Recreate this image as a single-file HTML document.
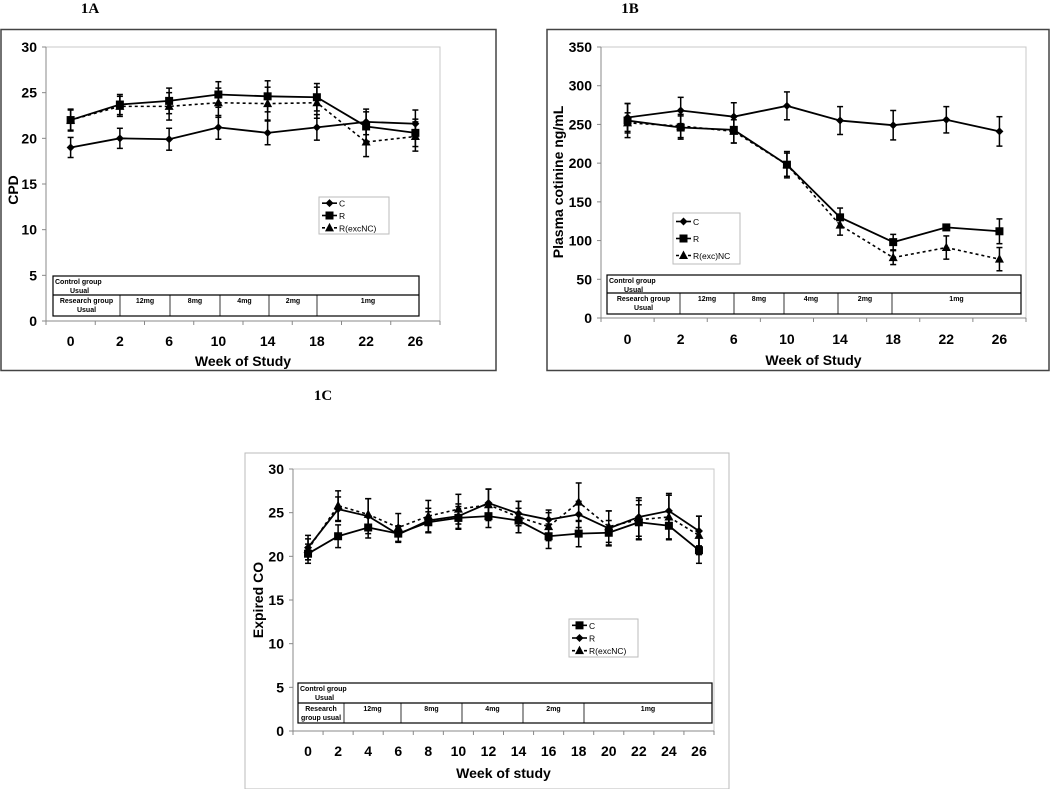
<!DOCTYPE html>
<html><head><meta charset="utf-8"><style>
html,body{margin:0;padding:0;background:#fff;width:1050px;height:789px;overflow:hidden}
svg{display:block;font-family:"Liberation Sans",Arial,sans-serif}
</style></head><body>
<svg id="fig" width="1050" height="789" viewBox="0 0 1050 789" xmlns="http://www.w3.org/2000/svg">
<text x="90" y="13" font-family="Liberation Serif" font-weight="bold" font-size="15" text-anchor="middle">1A</text>
<text x="630" y="13" font-family="Liberation Serif" font-weight="bold" font-size="15" text-anchor="middle">1B</text>
<text x="323" y="400" font-family="Liberation Serif" font-weight="bold" font-size="15" text-anchor="middle">1C</text>
</svg>
<script>
// ---- Chart 1A data ----
const catsA = ["0","2","6","10","14","18","22","26"];
const aC = [19,20,19.9,21.2,20.6,21.2,21.8,21.6];
const aCe = [1.1,1.1,1.2,1.3,1.3,1.4,1.4,1.5];
const aR = [22,23.7,24.1,24.8,24.6,24.5,21.3,20.6];
const aRe = [1.2,1.1,1.4,1.4,1.7,1.5,1.6,1.5];
const aX = [22,23.5,23.5,23.9,23.8,23.9,19.6,20.2];
const aXe = [1.1,1.1,1.5,1.6,1.8,1.7,1.6,1.6];
const ticksA = [0,5,10,15,20,25,30];
// ---- Chart 1B data ----
const catsB = ["0","2","6","10","14","18","22","26"];
const bC = [259,268,260,274,255,249,256,241];
const bCe = [18,17,18,18,18,19,17,19];
const bR = [255,246,243,198,130,98,117,112];
const bRe = [22,15,17,17,12,10,0,16];
const bX = [252,248,241,198,120,78,91,76];
const bXe = [13,15,15,15,13,9,15,15];
const ticksB = [0,50,100,150,200,250,300,350];
// ---- Chart 1C data ----
const catsC = ["0","2","4","6","8","10","12","14","16","18","20","22","24","26"];
const cC = [20.3,22.3,23.3,22.6,23.9,24.4,24.6,24.1,22.3,22.6,22.7,23.9,23.5,20.7];
const cCe = [1.1,1.3,1.2,0.9,1.2,1.3,1.3,1.4,1.4,1.5,1.4,2.0,1.6,1.5];
const cR = [21,25.4,24.6,22.5,24.1,24.6,26.1,24.9,24.2,24.8,23.2,24.5,25.2,22.9];
const cRe = [1.4,1.4,2.0,0.9,1.4,1.4,1.6,1.4,1.1,1.5,2.0,2.2,2.0,1.7];
const cX = [20.8,25.8,24.8,23.3,24.6,25.4,25.9,24.5,23.4,26.2,23.4,24.2,24.5,22.4];
const cXe = [1.2,1.7,1.8,1.6,1.8,1.7,1.8,1.8,1.6,2.2,1.8,2.2,2.5,2.2];
const ticksC = [0,5,10,15,20,25,30];

const NS="http://www.w3.org/2000/svg";
const svg=document.getElementById('fig');
function mk(tag,attrs,parent,txt){const e=document.createElementNS(NS,tag);for(const k in attrs)e.setAttribute(k,attrs[k]);if(txt!==undefined)e.textContent=txt;(parent||svg).appendChild(e);return e;}

function marker(g,type,x,y){
  let m;
  if(type==='d'){m=mk('polygon',{points:`${x},${y-4} ${x+4},${y} ${x},${y+4} ${x-4},${y}`,fill:'#000'},g);}
  else if(type==='s'){m=mk('rect',{x:x-4,y:y-4,width:8,height:8,fill:'#000'},g);}
  else {m=mk('polygon',{points:`${x},${y-5} ${x+4.5},${y+3.5} ${x-4.5},${y+3.5}`,fill:'#000'},g);}
  
  
}

function chart(cfg){
  const g=mk('g',{},svg);
  
  
  const fr=mk('rect',{x:cfg.frame[0],y:cfg.frame[1],width:cfg.frame[2],height:cfg.frame[3],fill:'#fff',stroke:cfg.frameColor,'stroke-width':cfg.frameW},g);
  
  
  const L=cfg.plot[0],R=cfg.plot[1],T=cfg.plot[2],B=cfg.plot[3];
  const ymax=cfg.ticks[cfg.ticks.length-1];
  const yS=v=>B-(v/ymax)*(B-T);
  const n=cfg.cats.length, bw=(R-L)/n;
  const xS=i=>L+bw*(i+0.5);
  const pa=mk('rect',{x:L,y:T,width:R-L,height:B-T,fill:'none',stroke:'#c8c8c8','stroke-width':1},g);
  
  
  mk('line',{x1:L,y1:T,x2:L,y2:B,stroke:'#888'},g);
  mk('line',{x1:L,y1:B,x2:R,y2:B,stroke:'#888'},g);
  cfg.ticks.forEach(t=>{
    const y=yS(t);
    mk('line',{x1:L-4,y1:y,x2:L,y2:y,stroke:'#888'},g);
    const tl=mk('text',{x:L-9,y:y+5,'text-anchor':'end','font-size':cfg.fs,'font-weight':'bold'},g,String(t));
    
    
  });
  for(let i=0;i<=n;i++){mk('line',{x1:L+bw*i,y1:B,x2:L+bw*i,y2:B+4,stroke:'#888'},g);}
  cfg.cats.forEach((c,i)=>{
    const tl=mk('text',{x:xS(i),y:cfg.xlabY,'text-anchor':'middle','font-size':cfg.fs,'font-weight':'bold'},g,c);
    
    
  });
  const xt=mk('text',{x:(L+R)/2,y:cfg.xtitleY,'text-anchor':'middle','font-size':cfg.fs,'font-weight':'bold'},g,cfg.xtitle);
  
  
  const yt=mk('text',{x:0,y:0,'text-anchor':'middle','font-size':cfg.fs,'font-weight':'bold',transform:`translate(${cfg.ytitleX},${cfg.ytitleY}) rotate(-90)`},g,cfg.ytitle);
  
  
  const tb=cfg.table;
  const tg=mk('g',{},g);
  
  
  mk('rect',{x:tb.x1,y:tb.y1,width:tb.x2-tb.x1,height:tb.y2-tb.y1,fill:'#fff',stroke:'#000','stroke-width':1.2},tg);
  mk('line',{x1:tb.x1,y1:tb.ym,x2:tb.x2,y2:tb.ym,stroke:'#000','stroke-width':1.2},tg);
  tb.cols.forEach(c=>mk('line',{x1:c,y1:tb.ym,x2:c,y2:tb.y2,stroke:'#000','stroke-width':0.8},tg));
  mk('text',{x:tb.x1+2,y:tb.y1+8,'font-size':7,'font-weight':'bold'},tg,'Control group');
  mk('text',{x:tb.x1+17,y:tb.y1+17,'font-size':7,'font-weight':'bold'},tg,'Usual');
  const edges=[tb.x1].concat(tb.cols,[tb.x2]);
  tb.labels.forEach((lb,i)=>{
    const cx=(edges[i]+edges[i+1])/2;
    if(Array.isArray(lb)){
      mk('text',{x:cx,y:tb.ym+8,'text-anchor':'middle','font-size':7,'font-weight':'bold'},tg,lb[0]);
      mk('text',{x:cx,y:tb.ym+17,'text-anchor':'middle','font-size':7,'font-weight':'bold'},tg,lb[1]);
    } else mk('text',{x:cx,y:tb.ym+8,'text-anchor':'middle','font-size':7,'font-weight':'bold'},tg,lb);
  });
  cfg.series.forEach(s=>{
    const sg=mk('g',{},g);
    
    
    const pts=s.v.map((v,i)=>`${xS(i)},${yS(v)}`).join(' ');
    const attrs={points:pts,fill:'none',stroke:'#000','stroke-width':s.dash?1.6:1.8};
    if(s.dash)attrs['stroke-dasharray']='3,3';
    mk('polyline',attrs,sg);
    s.v.forEach((v,i)=>{
      const x=xS(i),e=s.e[i];
      if(e>0){
        mk('line',{x1:x,y1:yS(v-e),x2:x,y2:yS(v+e),stroke:'#000','stroke-width':1.5},sg);
        mk('line',{x1:x-3,y1:yS(v-e),x2:x+3,y2:yS(v-e),stroke:'#000','stroke-width':1.5},sg);
        mk('line',{x1:x-3,y1:yS(v+e),x2:x+3,y2:yS(v+e),stroke:'#000','stroke-width':1.5},sg);
      }
      marker(sg,s.m,x,yS(v));
    });
  });
  const lg=cfg.legend;
  const lgg=mk('g',{},g);
  
  
  mk('rect',{x:lg.x,y:lg.y,width:lg.w,height:lg.h,fill:'#fff',stroke:'#bbb'},lgg);
  const step=lg.h/3;
  lg.items.forEach((it,i)=>{
    const y=lg.y+step*(i+0.5);
    const a={x1:lg.x+3,y1:y,x2:lg.x+18,y2:y,stroke:'#000','stroke-width':1.6};
    if(it.dash)a['stroke-dasharray']='3,3';
    mk('line',a,lgg);
    marker(lgg,it.m,lg.x+10.5,y);
    const t=mk('text',{x:lg.x+20,y:y+3.5,'font-size':lg.fs},lgg,it.label);
    
    
  });
}

chart({name:'chart-1a-cpd',frame:[1,29.5,495,341],frameColor:'#444',frameW:1.5,
  plot:[46,440,47,321],ticks:ticksA,cats:catsA,fs:14,xlabY:346,xtitleY:366,
  xtitle:'Week of Study',ytitle:'CPD',ytitleX:18,ytitleY:190,
  table:{x1:53,x2:419,y1:276,y2:316,ym:295,cols:[120,170,220,269,317],
    labels:[['Research  group','Usual'],'12mg','8mg','4mg','2mg','1mg']},
  series:[{key:'c',v:aC,e:aCe,m:'d'},{key:'r',v:aR,e:aRe,m:'s'},{key:'r-excnc',v:aX,e:aXe,m:'t',dash:true}],
  legend:{x:319,y:197,w:70,h:37,fs:8.5,items:[{label:'C',m:'d'},{label:'R',m:'s'},{label:'R(excNC)',m:'t',dash:true}]}});

chart({name:'chart-1b-cotinine',frame:[547,29.5,502,341],frameColor:'#444',frameW:1.5,
  plot:[601,1026,47,318],ticks:ticksB,cats:catsB,fs:14,xlabY:344,xtitleY:365,
  xtitle:'Week of Study',ytitle:'Plasma cotinine ng/mL',ytitleX:563,ytitleY:182,
  table:{x1:607,x2:1021,y1:275,y2:314,ym:293,cols:[680,734,784,838,892],
    labels:[['Research group','Usual'],'12mg','8mg','4mg','2mg','1mg']},
  series:[{key:'c',v:bC,e:bCe,m:'d'},{key:'r',v:bR,e:bRe,m:'s'},{key:'r-excnc',v:bX,e:bXe,m:'t',dash:true}],
  legend:{x:673,y:213,w:67,h:51,fs:8.5,items:[{label:'C',m:'d'},{label:'R',m:'s'},{label:'R(exc)NC',m:'t',dash:true}]}});

chart({name:'chart-1c-expired-co',frame:[245,453,484,336],frameColor:'#bbb',frameW:1,
  plot:[293,714,469,731],ticks:ticksC,cats:catsC,fs:14,xlabY:756,xtitleY:778,
  xtitle:'Week of study',ytitle:'Expired CO',ytitleX:263,ytitleY:600,
  table:{x1:298,x2:712,y1:683,y2:723,ym:703,cols:[344,401,462,523,584],
    labels:[['Research','group usual'],'12mg','8mg','4mg','2mg','1mg']},
  series:[{key:'c',v:cC,e:cCe,m:'s'},{key:'r',v:cR,e:cRe,m:'d'},{key:'r-excnc',v:cX,e:cXe,m:'t',dash:true}],
  legend:{x:569,y:619,w:69,h:38,fs:8.5,items:[{label:'C',m:'s'},{label:'R',m:'d'},{label:'R(excNC)',m:'t',dash:true}]}});
</script>
</body></html>
